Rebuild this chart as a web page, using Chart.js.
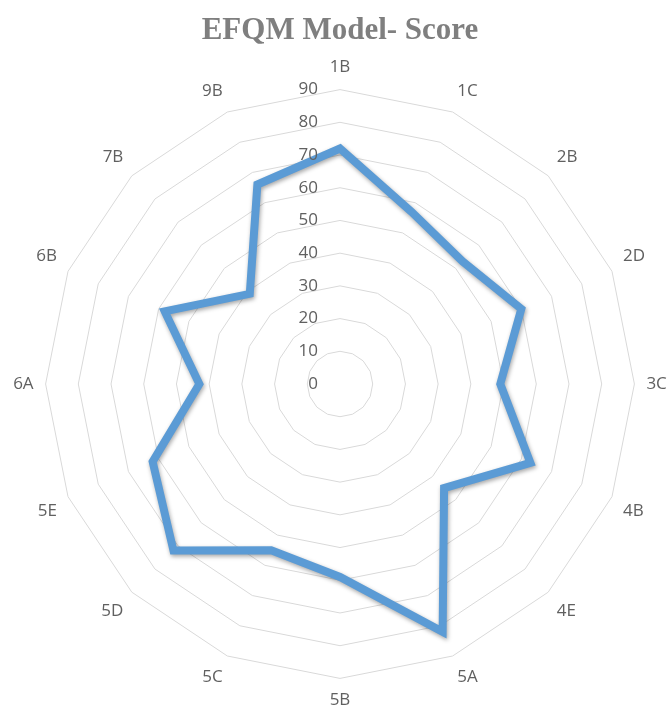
<!DOCTYPE html>
<html>
<head>
<meta charset="utf-8">
<script src="https://cdn.jsdelivr.net/npm/chart.js@4.4.1/dist/chart.umd.min.js"></script>
<style>
  body { margin: 0; background: #fff; }
  #wrap { width: 670px; height: 711px; }
</style>
</head>
<body>
<div id="wrap"><canvas id="radar"></canvas></div>
<script>
// categories around the radar, clockwise from top
var categories = ['1B', '1C', '2B', '2D', '3C', '4B', '4E', '5A', '5B', '5C', '5D', '5E', '6A', '6B', '7B', '9B'];
// score per category
var scores = [72, 57, 53, 60, 49, 63, 45, 82, 59, 55, 72, 62, 43, 58, 39, 66];
// tick labels on the vertical axis
var tickValues = [0, 10, 20, 30, 40, 50, 60, 70, 80, 90];

// ticks are drawn just left of the centre line like in the excel chart
var tickPlugin = {
  id: 'leftTicks',
  afterDraw: function(chart) {
    var s = chart.scales.r;
    var ctx = chart.ctx;
    ctx.save();
    ctx.font = '17px "Open Sans"';
    ctx.fillStyle = '#606060';
    ctx.textAlign = 'right';
    ctx.textBaseline = 'middle';
    tickValues.forEach(function(v) {
      var d = s.getDistanceFromCenterForValue(v);
      ctx.fillText(String(v), s.xCenter - 22, s.yCenter - d);
    });
    ctx.restore();
  }
};

// soft shadow under the line
var shadowPlugin = {
  id: 'lineShadow',
  beforeDatasetDraw: function(chart) {
    var ctx = chart.ctx;
    ctx.save();
    ctx.shadowColor = 'rgba(0,0,0,0.35)';
    ctx.shadowBlur = 4;
    ctx.shadowOffsetX = 1;
    ctx.shadowOffsetY = 2;
  },
  afterDatasetDraw: function(chart) {
    chart.ctx.restore();
  }
};

var chartdata = {
  labels: categories,
  datasets: [{
    label: 'Score',
    data: scores,
    borderColor: '#5b9bd5',
    backgroundColor: 'rgba(0,0,0,0)',
    borderWidth: 8,
    borderJoinStyle: 'miter',
    fill: false,
    pointRadius: 0,
    pointHoverRadius: 0
  }]
};

var config = {
  type: 'radar',
  data: chartdata,
  plugins: [tickPlugin, shadowPlugin],
  options: {
    responsive: true,
    maintainAspectRatio: false,
    animation: false,
    layout: { padding: { left: 13, right: 3, top: 0, bottom: 0 } },
    plugins: {
      legend: { display: false },
      tooltip: { enabled: false },
      title: {
        display: true,
        text: 'EFQM Model- Score',
        color: '#7f7f7f',
        font: { family: '"Liberation Serif", "Times New Roman", serif', size: 31, weight: 'bold' },
        padding: { top: 12, bottom: 8 }
      }
    },
    scales: {
      r: {
        min: 0,
        max: 90,
        ticks: { stepSize: 10, display: false },
        grid: { color: '#d9d9d9', lineWidth: 1 },
        angleLines: { display: false },
        pointLabels: {
          color: '#606060',
          padding: 12,
          font: { family: '"Open Sans"', size: 17 }
        }
      }
    }
  }
};

var myChart = new Chart(document.getElementById('radar'), config);
</script>
</body>
</html>
